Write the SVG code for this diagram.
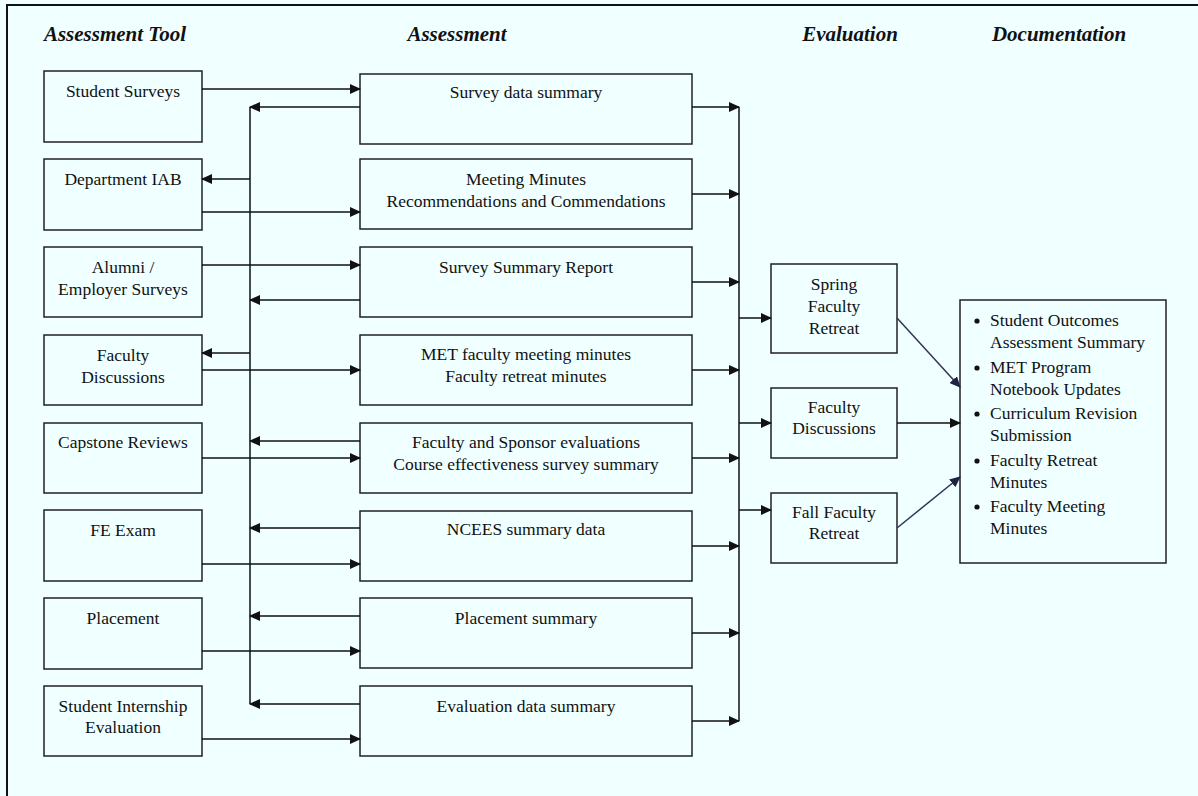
<svg xmlns="http://www.w3.org/2000/svg" width="1198" height="796" viewBox="0 0 1198 796">
<defs>
<style>
.box{fill:#f0ffff;stroke:#222;stroke-width:1.5}
.t{font-family:"Liberation Serif","Times New Roman",serif;font-size:17.5px;fill:#111;text-anchor:middle}
.tl{font-family:"Liberation Serif","Times New Roman",serif;font-size:17.5px;fill:#111}
.h{font-family:"Liberation Serif","Times New Roman",serif;font-size:21px;font-weight:bold;font-style:italic;fill:#111;text-anchor:middle}
.c{fill:none;stroke:#111;stroke-width:1.5}
.d{fill:none;stroke:#333355;stroke-width:1.5}
</style>
<marker id="ah" markerUnits="userSpaceOnUse" markerWidth="11" markerHeight="10" refX="10" refY="5" orient="auto">
<path d="M0,0 L11,5 L0,10 z" fill="#111"/>
</marker>
<marker id="ahd" markerUnits="userSpaceOnUse" markerWidth="11" markerHeight="10" refX="10" refY="5" orient="auto">
<path d="M0,0 L11,5 L0,10 z" fill="#222244"/>
</marker>
</defs>
<rect x="0" y="0" width="1198" height="796" fill="#f0ffff"/>
<path d="M7,796 L7,5 L1198,5" fill="none" stroke="#111" stroke-width="2"/>

<g id="headers">
<text class="h" x="115" y="41">Assessment Tool</text>
<text class="h" x="457" y="41">Assessment</text>
<text class="h" x="850" y="41">Evaluation</text>
<text class="h" x="1059" y="41">Documentation</text>
</g>

<g id="tool-student-surveys"><rect class="box" x="44" y="71" width="158" height="71"/><text class="t" x="123" y="97">Student Surveys</text></g>
<g id="tool-department-iab"><rect class="box" x="44" y="159" width="158" height="71"/><text class="t" x="123" y="185">Department IAB</text></g>
<g id="tool-alumni"><rect class="box" x="44" y="247" width="158" height="70"/><text class="t" x="123" y="273">Alumni /</text><text class="t" x="123" y="295">Employer Surveys</text></g>
<g id="tool-faculty-discussions"><rect class="box" x="44" y="335" width="158" height="70"/><text class="t" x="123" y="361">Faculty</text><text class="t" x="123" y="383">Discussions</text></g>
<g id="tool-capstone"><rect class="box" x="44" y="423" width="158" height="70"/><text class="t" x="123" y="448">Capstone Reviews</text></g>
<g id="tool-fe-exam"><rect class="box" x="44" y="510" width="158" height="71"/><text class="t" x="123" y="536">FE Exam</text></g>
<g id="tool-placement"><rect class="box" x="44" y="598" width="158" height="71"/><text class="t" x="123" y="624">Placement</text></g>
<g id="tool-internship"><rect class="box" x="44" y="686" width="158" height="70"/><text class="t" x="123" y="712">Student Internship</text><text class="t" x="123" y="733">Evaluation</text></g>

<g id="as-survey-data"><rect class="box" x="360" y="74" width="332" height="70"/><text class="t" x="526" y="98">Survey data summary</text></g>
<g id="as-meeting-minutes"><rect class="box" x="360" y="159" width="332" height="70"/><text class="t" x="526" y="185">Meeting Minutes</text><text class="t" x="526" y="207">Recommendations and Commendations</text></g>
<g id="as-survey-report"><rect class="box" x="360" y="247" width="332" height="70"/><text class="t" x="526" y="273">Survey Summary Report</text></g>
<g id="as-met-minutes"><rect class="box" x="360" y="335" width="332" height="70"/><text class="t" x="526" y="360">MET faculty meeting minutes</text><text class="t" x="526" y="382">Faculty retreat minutes</text></g>
<g id="as-faculty-sponsor"><rect class="box" x="360" y="423" width="332" height="70"/><text class="t" x="526" y="448">Faculty and Sponsor evaluations</text><text class="t" x="526" y="470">Course effectiveness survey summary</text></g>
<g id="as-ncees"><rect class="box" x="360" y="511" width="332" height="70"/><text class="t" x="526" y="535">NCEES summary data</text></g>
<g id="as-placement"><rect class="box" x="360" y="598" width="332" height="70"/><text class="t" x="526" y="624">Placement summary</text></g>
<g id="as-evaluation"><rect class="box" x="360" y="686" width="332" height="70"/><text class="t" x="526" y="712">Evaluation data summary</text></g>

<g id="ev-spring"><rect class="box" x="771" y="264" width="126" height="89"/><text class="t" x="834" y="290">Spring</text><text class="t" x="834" y="312">Faculty</text><text class="t" x="834" y="334">Retreat</text></g>
<g id="ev-faculty"><rect class="box" x="771" y="388" width="126" height="70"/><text class="t" x="834" y="413">Faculty</text><text class="t" x="834" y="434">Discussions</text></g>
<g id="ev-fall"><rect class="box" x="771" y="493" width="126" height="70"/><text class="t" x="834" y="518">Fall Faculty</text><text class="t" x="834" y="539">Retreat</text></g>

<g id="documentation">
<rect class="box" x="960" y="300" width="206" height="263"/>
<circle cx="977" cy="321" r="2.6" fill="#111"/><circle cx="977" cy="368" r="2.6" fill="#111"/><circle cx="977" cy="414" r="2.6" fill="#111"/><circle cx="977" cy="461" r="2.6" fill="#111"/><circle cx="977" cy="507" r="2.6" fill="#111"/>
<text class="tl" x="990" y="326">Student Outcomes</text>
<text class="tl" x="990" y="348">Assessment Summary</text>
<text class="tl" x="990" y="373">MET Program</text>
<text class="tl" x="990" y="395">Notebook Updates</text>
<text class="tl" x="990" y="419">Curriculum Revision</text>
<text class="tl" x="990" y="441">Submission</text>
<text class="tl" x="990" y="466">Faculty Retreat</text>
<text class="tl" x="990" y="488">Minutes</text>
<text class="tl" x="990" y="512">Faculty Meeting</text>
<text class="tl" x="990" y="534">Minutes</text>
</g>

<g id="connectors">
<path class="c" d="M250,107 L250,704"/>
<path class="c" d="M739,107 L739,721"/>
<path class="c" marker-end="url(#ah)" d="M202,89 L360,89"/>
<path class="c" marker-end="url(#ah)" d="M360,107 L250,107"/>
<path class="c" marker-end="url(#ah)" d="M250,179 L202,179"/>
<path class="c" marker-end="url(#ah)" d="M202,212 L360,212"/>
<path class="c" marker-end="url(#ah)" d="M202,265 L360,265"/>
<path class="c" marker-end="url(#ah)" d="M360,300 L250,300"/>
<path class="c" marker-end="url(#ah)" d="M250,353 L202,353"/>
<path class="c" marker-end="url(#ah)" d="M202,370 L360,370"/>
<path class="c" marker-end="url(#ah)" d="M360,441 L250,441"/>
<path class="c" marker-end="url(#ah)" d="M202,458 L360,458"/>
<path class="c" marker-end="url(#ah)" d="M360,528 L250,528"/>
<path class="c" marker-end="url(#ah)" d="M202,564 L360,564"/>
<path class="c" marker-end="url(#ah)" d="M360,616 L250,616"/>
<path class="c" marker-end="url(#ah)" d="M202,651 L360,651"/>
<path class="c" marker-end="url(#ah)" d="M360,704 L250,704"/>
<path class="c" marker-end="url(#ah)" d="M202,739 L360,739"/>
<path class="c" marker-end="url(#ah)" d="M692,107 L739,107"/>
<path class="c" marker-end="url(#ah)" d="M692,194 L739,194"/>
<path class="c" marker-end="url(#ah)" d="M692,282 L739,282"/>
<path class="c" marker-end="url(#ah)" d="M692,370 L739,370"/>
<path class="c" marker-end="url(#ah)" d="M692,458 L739,458"/>
<path class="c" marker-end="url(#ah)" d="M692,546 L739,546"/>
<path class="c" marker-end="url(#ah)" d="M692,633 L739,633"/>
<path class="c" marker-end="url(#ah)" d="M692,721 L739,721"/>
<path class="c" marker-end="url(#ah)" d="M739,318 L771,318"/>
<path class="c" marker-end="url(#ah)" d="M739,423 L771,423"/>
<path class="c" marker-end="url(#ah)" d="M739,510 L771,510"/>
<path class="d" marker-end="url(#ahd)" d="M897,318 L960,387"/>
<path class="c" marker-end="url(#ah)" d="M897,423 L960,423"/>
<path class="d" marker-end="url(#ahd)" d="M897,528 L960,477"/>
</g>
</svg>
